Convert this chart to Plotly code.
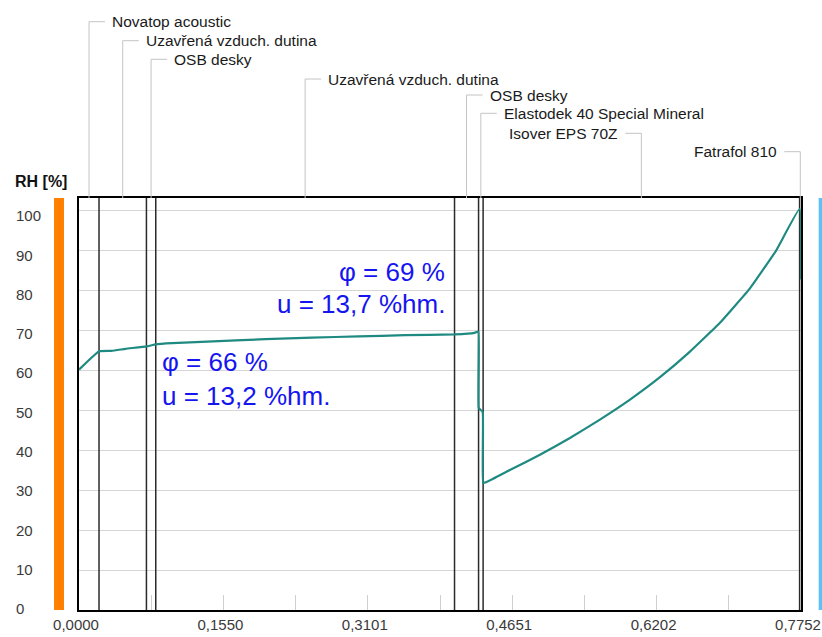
import plotly.graph_objects as go

# ---------------- data ----------------
layer_names = ["Novatop acoustic", "Uzavřená vzduch. dutina", "OSB desky",
               "Uzavřená vzduch. dutina", "OSB desky",
               "Elastodek 40 Special Mineral", "Isover EPS 70Z", "Fatrafol 810"]
layer_bounds = [0.0, 0.0215, 0.0724, 0.0824, 0.4032, 0.4290, 0.4339, 0.7737, 0.7752]
label_side = ["right", "right", "right", "right", "right", "right", "left", "left"]

rh_x = [0.0, 0.0215, 0.035, 0.050, 0.0724, 0.0824, 0.100, 0.150, 0.200, 0.250,
        0.300, 0.350, 0.4032, 0.4247, 0.4288, 0.4292, 0.4334, 0.4339,
        0.4376, 0.4626, 0.4949, 0.5271, 0.5593, 0.5916, 0.6238, 0.6560,
        0.6882, 0.7204, 0.7483, 0.7737, 0.7752]
rh_y = [60.1, 64.7, 64.8, 65.3, 65.9, 66.4, 66.7, 67.2, 67.7, 68.1,
        68.4, 68.7, 68.9, 69.3, 69.6, 50.5, 49.5, 31.8,
        32.0, 35.0, 38.8, 43.0, 47.6, 52.6, 58.2, 64.6,
        71.8, 80.4, 89.8, 100.3, 82.6]

x_tick_vals = [0.0, 0.15504, 0.31008, 0.46512, 0.62016, 0.7752]
x_tick_text = ["0,0000", "0,1550", "0,3101", "0,4651", "0,6202", "0,7752"]
x_minor_vals = [0.07752, 0.23256, 0.38760, 0.54264, 0.69768]
y_tick_vals = [0, 10, 20, 30, 40, 50, 60, 70, 80, 90, 100]
y_tick_text = ["0", "10", "20", "30", "40", "50", "60", "70", "80", "90", "100"]

notes = [  # (x, y, text, anchor)
    (0.0867, 62.0, "φ = 66 %", "left"),
    (0.0867, 53.6, "u = 13,2 %hm.", "left"),
    (0.3949, 84.6, "φ = 69 %", "right"),
    (0.3949, 76.4, "u = 13,7 %hm.", "right"),
]

# ---------------- styles ----------------
FONT = "Liberation Sans, Arial, sans-serif"
label_rise = [176.3, 157.3, 138.7, 119.0, 103.0, 84.7, 64.7, 46.3]
CURVE = "#1f8a82"

fig = go.Figure()

# layer boundaries
bx, by = [], []
for b in layer_bounds[1:-1]:
    bx += [b, b, None]
    by += [0, 103, None]
fig.add_trace(go.Scatter(x=bx, y=by, mode="lines",
                         line=dict(color="#2b2b2b", width=1.5),
                         hoverinfo="skip", showlegend=False))

# RH curve
fig.add_trace(go.Scatter(x=rh_x, y=rh_y, mode="lines",
                         line=dict(color=CURVE, width=2.2, shape="spline",
                                   smoothing=0.3),
                         showlegend=False))

# invisible anchor trace for the tick-label axis
fig.add_trace(go.Scatter(x=[0], y=[50], yaxis="y2", mode="markers",
                         marker=dict(opacity=0), hoverinfo="skip",
                         showlegend=False))

# figure-space padding to left-align y tick labels
pad = "\u2007"
y_text_padded = [t + pad * (3 - len(t)) for t in y_tick_text]

shapes = []
annotations = []

# leader lines + layer labels
for i, name in enumerate(layer_names):
    mid = (layer_bounds[i] + layer_bounds[i + 1]) / 2
    rise = label_rise[i]
    shapes.append(dict(type="line", xref="x", yref="y domain", ysizemode="pixel",
                       yanchor=1, x0=mid, x1=mid, y0=0, y1=rise,
                       line=dict(color="#c4c4c4", width=1)))
    sgn = 1 if label_side[i] == "right" else -1
    shapes.append(dict(type="line", xref="x", xsizemode="pixel", xanchor=mid,
                       yref="y domain", ysizemode="pixel", yanchor=1,
                       x0=0, x1=16 * sgn, y0=rise, y1=rise,
                       line=dict(color="#c4c4c4", width=1)))
    annotations.append(dict(xref="x", yref="y domain", x=mid, y=1,
                            xshift=21 * sgn, yshift=rise,
                            xanchor="left" if sgn > 0 else "right",
                            yanchor="middle", showarrow=False, text=name,
                            font=dict(family=FONT, size=15.5, color="#1a1a1a")))

# side colour bars (interior / exterior)
shapes.append(dict(type="rect", xref="x domain", yref="y domain",
                   x0=-0.0346, x1=-0.0208, y0=0, y1=1,
                   fillcolor="#ff8000", line=dict(width=0)))
shapes.append(dict(type="rect", xref="x domain", yref="y domain",
                   x0=1.0245, x1=1.04, y0=0, y1=1,
                   fillcolor="#5cc1f5", line=dict(width=0)))

# RH / moisture notes
for (nx, ny, txt, anc) in notes:
    annotations.append(dict(xref="x", yref="y", x=nx, y=ny, text=txt,
                            xanchor=anc, yanchor="middle", showarrow=False,
                            font=dict(family=FONT, size=26, color="#1515f0")))

# axis title
annotations.append(dict(xref="paper", yref="paper", x=0, y=1, xshift=-66.5,
                        yshift=16.5, xanchor="left", yanchor="middle",
                        showarrow=False, text="<b>RH [%]</b>",
                        font=dict(family=FONT, size=16, color="#111111")))

fig.update_layout(
    width=822, height=637,
    margin=dict(l=79, r=21, t=198, b=27, autoexpand=False),
    paper_bgcolor="white", plot_bgcolor="white",
    separators=", ",
    shapes=shapes, annotations=annotations,
    showlegend=False,
    yaxis2=dict(overlaying="y", anchor="x", side="left",
                range=[-0.254, 104.58], tickmode="array",
                tickvals=y_tick_vals, ticktext=y_text_padded,
                showgrid=False, zeroline=False, showline=False, ticks="",
                tickfont=dict(family=FONT, size=15, color="#3a3a3a"),
                ticklabelstandoff=37, automargin=False),
)
fig.update_xaxes(range=[0, 0.7752], tickmode="array", tickvals=x_tick_vals,
                 ticktext=x_tick_text, showgrid=False, zeroline=False,
                 showline=True, mirror=True, linecolor="#000000", linewidth=2,
                 ticks="inside", ticklen=15, tickcolor="#cfcfcf", tickwidth=1,
                 minor=dict(tickmode="array", tickvals=x_minor_vals, ticks="inside",
                            ticklen=15, tickcolor="#cfcfcf", tickwidth=1),
                 tickfont=dict(family=FONT, size=15, color="#3a3a3a"),
                 ticklabelstandoff=0, ticklabelshift=-3, ticklabeloverflow="allow",
                 layer="below traces", automargin=False)
fig.update_layout(yaxis=dict(range=[0, 103], tickmode="array", tickvals=y_tick_vals,
                             showticklabels=False, showgrid=True, gridcolor="#d6d6d6",
                             gridwidth=1, zeroline=False, showline=True, mirror=True,
                             linecolor="#000000", linewidth=2, ticks="",
                             layer="below traces", automargin=False))

# remove the default page margin so the figure fills the 822x637 window exactly
fig.write_html("out.html", config={"displayModeBar": False},
               post_script="document.body.style.margin='0';"
                           "document.body.style.overflow='hidden';")
